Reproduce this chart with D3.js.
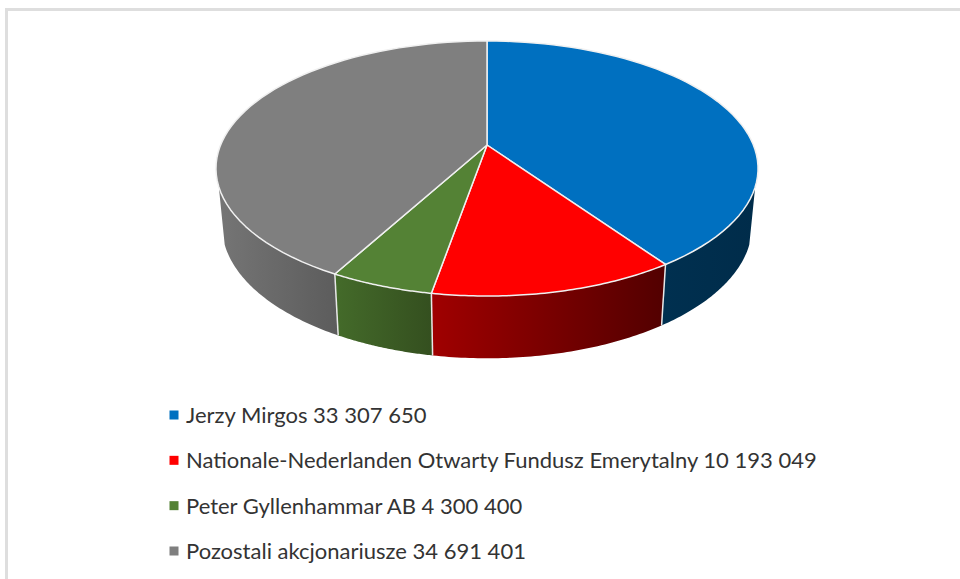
<!DOCTYPE html>
<html>
<head>
<meta charset="utf-8">
<script src="https://d3js.org/d3.v7.min.js"></script>
<style>
  html, body { margin: 0; padding: 0; background: #fff; overflow: hidden; }
  text { font-family: Lato, "Open Sans", sans-serif; }
</style>
</head>
<body>
<div id="chart"></div>
<script>
// Shareholder structure, tilted 3D pie with legend below
const W = 960, H = 579;

const names = ["Jerzy Mirgos", "Nationale-Nederlanden Otwarty Fundusz Emerytalny", "Peter Gyllenhammar AB", "Pozostali akcjonariusze"];
const shares = [33307650, 10193049, 4300400, 34691401];
const topColors = ["#0070c0", "#ff0000", "#548235", "#7f7f7f"];
const wallLeft = ["#003050", "#a00000", "#446b2a", "#757575"];
const wallRight = ["#002c4a", "#520000", "#344f1f", "#5c5c5c"];

const svg = d3.select("#chart").append("svg").attr("width", W).attr("height", H);
const defs = svg.append("defs");

// frame of the pasted chart (top and left only)
svg.append("rect").attr("x", 5).attr("y", 8).attr("width", W).attr("height", 3).attr("fill", "#dedede");
svg.append("rect").attr("x", 5).attr("y", 8).attr("width", 3).attr("height", H).attr("fill", "#dedede");

// ---------- perspective of the disc ----------
const cx = 487, cy = 145;      // where the slices meet
const radX = 266.4, radY = 123.2, tilt = 0.1843;

function rim(a) {
  const u = Math.sin(a), v = -Math.cos(a), w = 1 - tilt * v;
  return [cx + radX * u / w, cy + radY * v / w];
}
function lowerRim(a) {
  const p = rim(a);
  return [cx + 0.978 * (p[0] - cx), 326 + (p[1] - 265) * 1.04];
}
const steps = a0 => (a1 => d3.range(0, 61).map(i => a0 + (a1 - a0) * i / 60));

const wallFrom = 108.7 * Math.PI / 180, wallTo = 251.3 * Math.PI / 180;
const line = d3.line();
const slices = d3.pie().sort(null)(shares);

// ---------- walls ----------
const walls = svg.append("g");
slices.forEach((d, i) => {
  const a0 = Math.max(d.startAngle, wallFrom), a1 = Math.min(d.endAngle, wallTo);
  const angles = steps(a0)(a1);
  const upper = angles.map(rim), lower = angles.map(lowerRim).reverse();
  const xs = upper.concat(lower).map(p => p[0]);

  const grad = defs.append("linearGradient").attr("id", "wall" + i)
    .attr("gradientUnits", "userSpaceOnUse")
    .attr("x1", d3.min(xs)).attr("x2", d3.max(xs)).attr("y1", 0).attr("y2", 0);
  grad.append("stop").attr("offset", "0%").attr("stop-color", wallLeft[i]);
  grad.append("stop").attr("offset", "100%").attr("stop-color", wallRight[i]);

  walls.append("path")
    .attr("d", line(upper.concat(lower)) + "Z")
    .attr("fill", `url(#wall${i})`);
  // seams between the slices
  if (d.startAngle > wallFrom && d.startAngle < wallTo) {
    walls.append("path")
      .attr("d", line([rim(d.startAngle), lowerRim(d.startAngle)]))
      .attr("stroke", "#e8e8e8").attr("stroke-width", 1.5).attr("fill", "none");
  }
});

// ---------- top of the pie ----------
svg.append("g").selectAll("path").data(slices).join("path")
  .attr("d", d => line([[cx, cy]].concat(steps(d.startAngle)(d.endAngle).map(rim))) + "Z")
  .attr("fill", (d, i) => topColors[i])
  .attr("stroke", "#f0f0f0")
  .attr("stroke-width", 1.5)
  .attr("stroke-linejoin", "round");

// ---------- legend ----------
const fmt = d3.formatLocale({ decimal: ",", thousands: " ", grouping: [3], currency: ["", ""] }).format(",d");
const legendY = d3.scalePoint().domain(names).range([415, 551]);

const legend = svg.append("g").selectAll("g").data(names).join("g")
  .attr("transform", d => `translate(0,${legendY(d)})`);
legend.append("rect")
  .attr("x", 169.5).attr("y", -4.5).attr("width", 9).attr("height", 9)
  .attr("fill", (d, i) => topColors[i]);
legend.append("text")
  .attr("x", 186).attr("y", 8)
  .attr("font-size", 22)
  .attr("fill", "#333333")
  .text((d, i) => `${d} ${fmt(shares[i])}`);
</script>
</body>
</html>
